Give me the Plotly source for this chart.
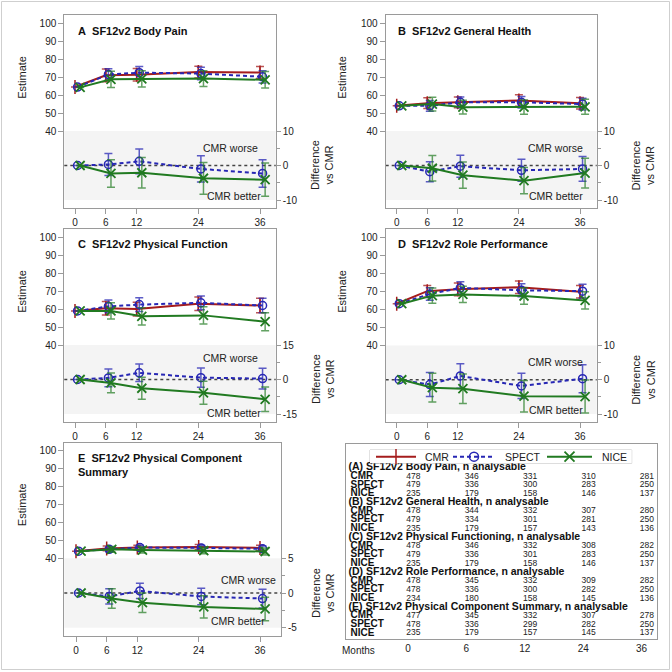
import plotly.graph_objects as go

W = H = 672
FONT = "Liberation Sans, Arial, sans-serif"

# ---------------- data ----------------
months = [0, 6, 12, 24, 36]
month_labels = ["0", "6", "12", "24", "36"]
groups = ["CMR", "SPECT", "NICE"]

panel_keys = ["A", "B", "C", "D", "E"]
panel_titles = [
    "A\u00a0 SF12v2 Body Pain",
    "B\u00a0 SF12v2 General Health",
    "C\u00a0 SF12v2 Physical Function",
    "D\u00a0 SF12v2 Role Performance",
    "E\u00a0 SF12v2 Physical Component<br>Summary",
]

# Estimates (mean) and 95% CI half-widths
A_cmr = [64.5, 71.0, 71.3, 72.8, 72.6]; A_cmr_ci = [0, 3.5, 3.5, 3.3, 3.4]
A_spect = [64.5, 71.5, 72.5, 72.0, 70.2]; A_spect_ci = [0, 3.2, 3.5, 3.5, 3.4]
A_nice = [64.3, 68.8, 69.0, 69.2, 68.5]; A_nice_ci = [0, 4.5, 4.5, 4.4, 4.6]
A_dspect = [0, 0.3, 1.2, -1.0, -2.3]; A_dspect_ci = [0, 3.2, 3.6, 3.8, 4.0]
A_dnice = [0, -2.3, -2.1, -3.7, -4.1]; A_dnice_ci = [0, 4.0, 4.4, 4.6, 4.8]

B_cmr = [54.0, 55.5, 56.0, 57.0, 55.5]; B_cmr_ci = [0, 3.0, 3.0, 3.2, 3.2]
B_spect = [54.0, 54.0, 56.0, 56.0, 55.0]; B_spect_ci = [0, 3.0, 3.0, 3.2, 3.3]
B_nice = [54.0, 55.0, 53.3, 53.3, 53.5]; B_nice_ci = [0, 3.8, 3.8, 4.0, 4.2]
B_dspect = [0, -1.8, -0.2, -1.4, -1.0]; B_dspect_ci = [0, 2.9, 3.2, 3.2, 3.6]
B_dnice = [0, -0.8, -2.8, -4.4, -2.2]; B_dnice_ci = [0, 3.7, 3.8, 3.8, 4.3]

C_cmr = [59.0, 60.5, 60.0, 63.0, 62.0]; C_cmr_ci = [0, 3.8, 3.8, 3.8, 4.0]
C_spect = [59.0, 61.5, 62.5, 63.5, 62.0]; C_spect_ci = [0, 3.5, 3.8, 3.8, 4.0]
C_nice = [59.0, 59.0, 56.0, 56.5, 53.0]; C_nice_ci = [0, 4.5, 4.8, 4.8, 5.0]
C_dspect = [0, 0.7, 2.9, 0.8, 0.4]; C_dspect_ci = [0, 3.9, 3.8, 4.2, 4.5]
C_dnice = [0, -1.5, -3.8, -5.8, -8.6]; C_dnice_ci = [0, 4.3, 4.8, 5.0, 5.3]

D_cmr = [63.0, 70.0, 71.0, 72.2, 69.7]; D_cmr_ci = [0, 3.2, 3.5, 3.5, 3.5]
D_spect = [63.0, 68.4, 71.8, 70.5, 70.0]; D_spect_ci = [0, 3.5, 3.5, 3.6, 3.8]
D_nice = [63.0, 67.5, 68.2, 67.3, 64.8]; D_nice_ci = [0, 4.3, 4.5, 4.6, 4.8]
D_dspect = [0, -1.4, 1.1, -1.8, 0.3]; D_dspect_ci = [0, 3.5, 3.6, 3.7, 4.1]
D_dnice = [0, -2.3, -2.6, -4.8, -4.9]; D_dnice_ci = [0, 4.2, 4.3, 4.6, 4.8]

E_cmr = [44.0, 45.5, 46.0, 46.3, 45.8]; E_cmr_ci = [0, 1.3, 1.3, 1.4, 1.5]
E_spect = [44.0, 45.0, 46.0, 45.8, 45.3]; E_spect_ci = [0, 1.3, 1.3, 1.4, 1.5]
E_nice = [44.0, 45.0, 44.6, 44.3, 43.8]; E_nice_ci = [0, 1.6, 1.7, 1.8, 1.9]
E_dspect = [0, -0.5, 0.3, -0.5, -0.8]; E_dspect_ci = [0, 1.1, 1.1, 1.2, 1.35]
E_dnice = [0, -0.8, -1.4, -2.0, -2.3]; E_dnice_ci = [0, 1.4, 1.4, 1.6, 1.7]

diff_limits = [10, 10, 15, 10, 5]

# n analysable table
table_headers = [
    "(A) SF12v2 Body Pain, n analysable",
    "(B) SF12v2 General Health, n analysable",
    "(C) SF12v2 Physical Functioning, n analysable",
    "(D) SF12v2 Role Performance, n analysable",
    "(E) SF12v2 Physical Component Summary, n analysable",
]
n_A = [[478, 346, 331, 310, 281], [479, 336, 300, 283, 250], [235, 179, 158, 146, 137]]
n_B = [[478, 344, 332, 307, 280], [479, 334, 301, 281, 250], [235, 179, 157, 143, 136]]
n_C = [[478, 346, 332, 308, 282], [479, 336, 301, 283, 250], [235, 179, 158, 146, 137]]
n_D = [[478, 345, 332, 309, 282], [478, 336, 300, 282, 250], [234, 180, 158, 145, 136]]
n_E = [[477, 345, 332, 307, 278], [478, 336, 299, 282, 250], [235, 179, 157, 145, 137]]

est_data = {
    "A": (A_cmr, A_cmr_ci, A_spect, A_spect_ci, A_nice, A_nice_ci, A_dspect, A_dspect_ci, A_dnice, A_dnice_ci),
    "B": (B_cmr, B_cmr_ci, B_spect, B_spect_ci, B_nice, B_nice_ci, B_dspect, B_dspect_ci, B_dnice, B_dnice_ci),
    "C": (C_cmr, C_cmr_ci, C_spect, C_spect_ci, C_nice, C_nice_ci, C_dspect, C_dspect_ci, C_dnice, C_dnice_ci),
    "D": (D_cmr, D_cmr_ci, D_spect, D_spect_ci, D_nice, D_nice_ci, D_dspect, D_dspect_ci, D_dnice, D_dnice_ci),
    "E": (E_cmr, E_cmr_ci, E_spect, E_spect_ci, E_nice, E_nice_ci, E_dspect, E_dspect_ci, E_dnice, E_dnice_ci),
}
n_tables = [n_A, n_B, n_C, n_D, n_E]

# ---------------- styles / geometry ----------------
RED = "#A51C1C"; BLUE = "#2727B4"; GREEN = "#217A21"
RED_E = "rgba(165,28,28,0.75)"; BLUE_E = "rgba(39,39,180,0.75)"; GREEN_E = "rgba(33,122,33,0.7)"
FRAME = "#9A9A9A"
TXT = "#222222"

STYLE = {
    "CMR": dict(color=RED, ecolor=RED_E, dash="solid", symbol="line-ns-open", size=10, lw=1.5),
    "SPECT": dict(color=BLUE, ecolor=BLUE_E, dash="4px,3px", symbol="circle-open", size=8, lw=1.5),
    "NICE": dict(color=GREEN, ecolor=GREEN_E, dash="solid", symbol="x-thin-open", size=9, lw=1.8),
}

geo = {
    "A": dict(x0=64.3, x1=275.7, y0=15, y1=208, t0=75, t36=260, e100=23.3, e40=131, dtop=131, dbot=200,
              title=(76, 30.7), worse=(230, 148), better=(234, 196), ltx=21.7, rtx=322.5),
    "B": dict(x0=385.7, x1=596.7, y0=15, y1=208, t0=396.7, t36=580, e100=23.3, e40=131, dtop=131, dbot=200,
              title=(395.7, 30.7), worse=(555.7, 148), better=(555.7, 196), ltx=341.7, rtx=643),
    "C": dict(x0=64.3, x1=275.7, y0=229, y1=421.7, t0=75, t36=260, e100=237.3, e40=345, dtop=345, dbot=414,
              title=(76, 244.3), worse=(230, 358.3), better=(234, 413.3), ltx=21.7, rtx=322.5),
    "D": dict(x0=385.7, x1=596.7, y0=229, y1=421.7, t0=396.7, t36=580, e100=237.3, e40=345, dtop=345.5, dbot=414,
              title=(395.7, 244.3), worse=(555.7, 362.3), better=(555.7, 410), ltx=341.7, rtx=643),
    "E": dict(x0=64.3, x1=281, y0=443.3, y1=636, t0=76, t36=260, e100=450.7, e40=558.3, dtop=558.3, dbot=627.7,
              title=(76, 464.5), worse=(248.3, 580), better=(238.3, 621), ltx=21.7, rtx=323),
}

def px(x):
    return x / W

def py(y):
    return 1 - y / H

fig = go.Figure()
layout = dict(
    width=W, height=H, margin=dict(l=0, r=0, t=0, b=0, autoexpand=False),
    paper_bgcolor="white", plot_bgcolor="white",
    font=dict(family=FONT, size=10, color=TXT),
    showlegend=False, hovermode=False,
)
annotations = []
shapes = []

offsets = {"CMR": 0.0, "SPECT": 0.5, "NICE": 1.0}

def series(name, xs, ys, ci, xref, yref):
    s = STYLE[name]
    return go.Scatter(
        x=xs, y=ys, xaxis=xref, yaxis=yref, mode="lines+markers", name=name, showlegend=False,
        line=dict(color=s["color"], width=2, dash=s["dash"]),
        marker=dict(symbol=s["symbol"], size=s["size"], color=s["color"],
                    line=dict(color=s["color"], width=s["lw"])),
        error_y=dict(type="data", array=ci, color=s["ecolor"], thickness=1.5, width=4),
        hoverinfo="skip")

for k, key in enumerate(panel_keys):
    g = geo[key]
    D = diff_limits[k]
    xi = k + 1
    ye = 2 * k + 1
    yd = 2 * k + 2
    xname = "xaxis" if xi == 1 else f"xaxis{xi}"
    xref = "x" if xi == 1 else f"x{xi}"
    yename = "yaxis" if ye == 1 else f"yaxis{ye}"
    yeref = "y" if ye == 1 else f"y{ye}"
    ydname = f"yaxis{yd}"
    ydref = f"y{yd}"

    ppu = (g["t36"] - g["t0"]) / 36.0
    xr = [-(g["t0"] - g["x0"]) / ppu, 36 + (g["x1"] - g["t36"]) / ppu]
    se = 60.0 / (g["e40"] - g["e100"])
    er = [40 - (g["y1"] - g["e40"]) * se, 100 + (g["e100"] - g["y0"]) * se]
    sd = 2.0 * D / (g["dbot"] - g["dtop"])
    dr = [-D - (g["y1"] - g["dbot"]) * sd, D + (g["dtop"] - g["y0"]) * sd]

    xdom = [px(g["x0"]), px(g["x1"])]
    ydom = [py(g["y1"]), py(g["y0"])]

    layout[xname] = dict(
        domain=xdom, range=xr, anchor=yeref, tickvals=months, ticktext=month_labels,
        ticks="outside", ticklen=5, tickcolor=FRAME, showgrid=False, zeroline=False,
        showline=True, linecolor=FRAME, linewidth=1, mirror=True,
        tickfont=dict(size=10, color=TXT), fixedrange=True,
    )
    layout[yename] = dict(
        domain=ydom, range=er, anchor=xref, tickvals=[40, 50, 60, 70, 80, 90, 100],
        ticks="outside", ticklen=5, tickcolor=FRAME, showgrid=False, zeroline=False,
        showline=True, linecolor=FRAME, linewidth=1, mirror=True,
        tickfont=dict(size=10, color=TXT), fixedrange=True,
    )
    layout[ydname] = dict(
        overlaying=yeref, side="right", anchor=xref, range=dr,
        tickvals=[-D, 0, D], ticktext=[str(-D), "0", str(D)],
        ticks="outside", ticklen=4, tickcolor=FRAME, showgrid=False, zeroline=False,
        showline=False, tickfont=dict(size=10, color=TXT), fixedrange=True,
        minor=dict(tickvals=[-D / 2, D / 2], ticks="outside", ticklen=3, tickcolor=FRAME, showgrid=False),
    )

    shapes.append(dict(type="rect", xref=f"{xref} domain", yref=ydref, x0=0, x1=1, y0=-D, y1=D,
                       fillcolor="#F4F4F4", line=dict(width=0), layer="below"))
    shapes.append(dict(type="line", xref=f"{xref} domain", yref=ydref, x0=0, x1=1, y0=0, y1=0,
                       line=dict(color="#444444", width=1.3, dash="dot"), layer="below"))

    cmr, cmr_ci, sp, sp_ci, ni, ni_ci, dsp, dsp_ci, dni, dni_ci = est_data[key]

    fig.add_trace(series("CMR", [m + offsets["CMR"] for m in months], cmr, cmr_ci, xref, yeref))
    fig.add_trace(series("SPECT", [m + offsets["SPECT"] for m in months], sp, sp_ci, xref, yeref))
    fig.add_trace(series("NICE", [m + offsets["NICE"] for m in months], ni, ni_ci, xref, yeref))
    fig.add_trace(series("SPECT", [m + offsets["SPECT"] for m in months], dsp, dsp_ci, xref, ydref))
    fig.add_trace(series("NICE", [m + offsets["NICE"] for m in months], dni, dni_ci, xref, ydref))

    tx, ty = g["title"]
    annotations.append(dict(xref="paper", yref="paper", x=px(tx), y=py(ty), xanchor="left", yanchor="middle",
                            text=f"<b>{panel_titles[k]}</b>", showarrow=False, align="left",
                            font=dict(size=11, color="#111111")))
    wx, wy = g["worse"]
    annotations.append(dict(xref="paper", yref="paper", x=px(wx), y=py(wy), xanchor="center", yanchor="middle",
                            text="CMR worse", showarrow=False, font=dict(size=10.5, color=TXT)))
    bx, by = g["better"]
    annotations.append(dict(xref="paper", yref="paper", x=px(bx), y=py(by), xanchor="center", yanchor="middle",
                            text="CMR better", showarrow=False, font=dict(size=10.5, color=TXT)))
    annotations.append(dict(xref="paper", yref="paper", x=px(g["ltx"]), y=py((g["e100"] + g["e40"]) / 2),
                            xanchor="center", yanchor="middle", text="Estimate", textangle=-90,
                            showarrow=False, font=dict(size=11, color=TXT)))
    annotations.append(dict(xref="paper", yref="paper", x=px(g["rtx"]), y=py((g["dtop"] + g["dbot"]) / 2),
                            xanchor="center", yanchor="middle", text="Difference<br>vs CMR", textangle=-90,
                            showarrow=False, font=dict(size=11, color=TXT)))

# ---------------- n analysable table ----------------
tb = dict(x0=345.7, x1=656.7, y0=444, y1=639, c0=408, c4=641.6, r0=467.7, r19=633.3)
cstep = (tb["c4"] - tb["c0"]) / 4
rstep = (tb["r19"] - tb["r0"]) / 19
txr = [(tb["x0"] - tb["c0"]) / cstep, 4 + (tb["x1"] - tb["c4"]) / cstep]
tyr = [(tb["y1"] - tb["r0"]) / rstep, (tb["y0"] - tb["r0"]) / rstep]

layout["xaxis6"] = dict(
    domain=[px(tb["x0"]), px(tb["x1"])], range=txr, anchor="y11",
    tickvals=list(range(len(months))), ticktext=month_labels, ticks="", showgrid=False, zeroline=False,
    showline=True, linecolor=FRAME, linewidth=1, mirror=True, tickfont=dict(size=10, color=TXT),
    fixedrange=True,
)
layout["yaxis11"] = dict(
    domain=[py(tb["y1"]), py(tb["y0"])], range=tyr, anchor="x6",
    showticklabels=False, ticks="", showgrid=False, zeroline=False,
    showline=True, linecolor=FRAME, linewidth=1, mirror=True, fixedrange=True,
)
annotations.append(dict(xref="paper", yref="paper", x=px(358), y=py(650), xanchor="center", yanchor="middle",
                        text="Months", showarrow=False, font=dict(size=10, color=TXT)))

label_x = (350.5 - tb["c0"]) / cstep
head_x = (348.5 - tb["c0"]) / cstep
head_rows = [4 * i for i in range(5)]
fig.add_trace(go.Scatter(
    x=[head_x] * 5, y=head_rows, xaxis="x6", yaxis="y11", mode="text",
    text=[f"<b>{h}</b>" for h in table_headers], textposition="middle right",
    textfont=dict(size=10.5, color="#111111", family=FONT), showlegend=False, hoverinfo="skip",
    cliponaxis=False))
lab_rows, lab_text, num_x, num_y, num_t = [], [], [], [], []
for i, tbl in enumerate(n_tables):
    for j, gname in enumerate(groups):
        r = 4 * i + 1 + j
        lab_rows.append(r)
        lab_text.append(f"<b>{gname}</b>")
        for c, v in enumerate(tbl[j]):
            num_x.append(c - 0.03)
            num_y.append(r)
            num_t.append(str(v))
fig.add_trace(go.Scatter(
    x=[label_x] * len(lab_rows), y=lab_rows, xaxis="x6", yaxis="y11", mode="text",
    text=lab_text, textposition="middle right",
    textfont=dict(size=10, color="#111111", family=FONT), showlegend=False, hoverinfo="skip",
    cliponaxis=False))
fig.add_trace(go.Scatter(
    x=num_x, y=num_y, xaxis="x6", yaxis="y11", mode="text",
    text=num_t, textposition="middle right",
    textfont=dict(size=8.5, color=TXT, family=FONT), showlegend=False, hoverinfo="skip",
    cliponaxis=False))

# ---------------- legend (drawn in its own small frame) ----------------
lg = dict(x0=370, x1=631.7, y0=450, y1=463.3)
layout["xaxis7"] = dict(domain=[px(lg["x0"]), px(lg["x1"])], range=[lg["x0"], lg["x1"]], anchor="y12",
                        visible=False, fixedrange=True)
layout["yaxis12"] = dict(domain=[py(lg["y1"]), py(lg["y0"])], range=[0, 1], anchor="x7",
                         visible=False, fixedrange=True)
shapes.append(dict(type="rect", xref="paper", yref="paper", x0=px(lg["x0"]), x1=px(lg["x1"]),
                   y0=py(lg["y1"]), y1=py(lg["y0"]), line=dict(color="#C4C4C4", width=1),
                   fillcolor="white", layer="below"))
legend_keys = {"CMR": (376, 416, 423), "SPECT": (453, 495, 503), "NICE": (547, 592, 600)}
for name in groups:
    a, b, t = legend_keys[name]
    s = STYLE[name]
    fig.add_trace(go.Scatter(x=[a, b], y=[0.5, 0.5], xaxis="x7", yaxis="y12", mode="lines",
                             line=dict(color=s["color"], width=2, dash=s["dash"]),
                             showlegend=False, hoverinfo="skip", cliponaxis=False))
    fig.add_trace(go.Scatter(x=[(a + b) / 2], y=[0.5], xaxis="x7", yaxis="y12", mode="markers",
                             marker=dict(symbol=s["symbol"], size=s["size"] + 1, color=s["color"],
                                         line=dict(color=s["color"], width=s["lw"])),
                             showlegend=False, hoverinfo="skip", cliponaxis=False))
    annotations.append(dict(xref="x7", yref="y12", x=t, y=0.5, xanchor="left", yanchor="middle",
                            text=name, showarrow=False, font=dict(size=10.5, color=TXT)))

# outer frame
shapes.append(dict(type="rect", xref="paper", yref="paper", x0=px(1.5), x1=px(669.5), y0=py(669.5), y1=py(1.5),
                   line=dict(color="#CFCFCF", width=1), fillcolor="rgba(0,0,0,0)", layer="below"))

layout["annotations"] = annotations
layout["shapes"] = shapes
fig.update_layout(**layout)
fig.write_html("out.html", config={"displayModeBar": False, "staticPlot": True},
               post_script="document.body.style.margin='0px';")
